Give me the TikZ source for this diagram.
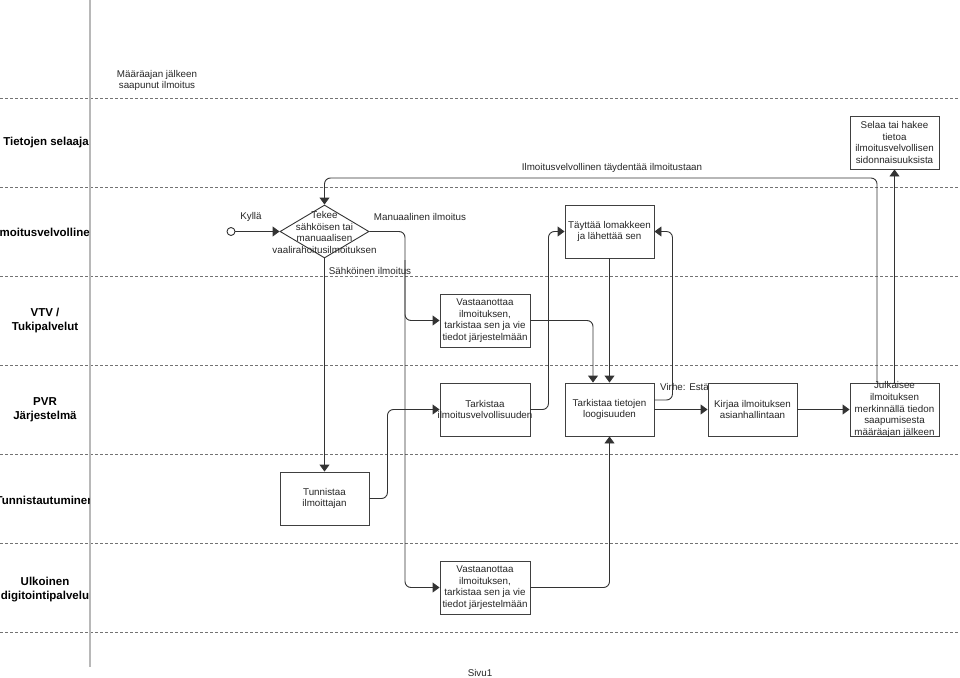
\documentclass[tikz,border=0pt]{standalone}
\usepackage{fontspec}
\setmainfont{Liberation Sans}
\usetikzlibrary{arrows.meta,shapes.geometric}
\begin{document}
\begin{tikzpicture}[x=1pt,y=-1pt]
\tikzset{
 lbl/.style={font=\fontsize{9.8}{11.67}\selectfont, inner sep=0pt, align=center, text=black!85},
 box/.style={draw=black!75, fill=white, line width=0.9pt, minimum width=89pt, minimum height=53pt, inner sep=0pt, align=center, font=\fontsize{9.8}{11.67}\selectfont, text=black!85},
 conn/.style={draw=black!80, line width=0.9pt, rounded corners=6pt},
 arr/.style={conn, -{Triangle[length=7pt,width=10pt]}},
 lane/.style={draw=black!55, dash pattern=on 3pt off 2pt, line width=0.8pt},
 lanelbl/.style={font=\bfseries\fontsize{11.5}{14}\selectfont, align=center, inner sep=0pt, text=black}
}
\useasboundingbox (0,0) rectangle (960,677);
% lanes
\foreach \yy in {98,187,276,365,454,543,632} \draw[lane] (0,\yy) -- (960,\yy);
\draw[draw=black!28, line width=1.2pt] (90,0) -- (90,667);
% lane labels
\begin{scope}
\clip (0,98) rectangle (89.4,632);
\node[lanelbl] (l1) at (46,143) {Tietojen selaaja};
\node[lanelbl] (l2) at (45,232) {Ilmoitusvelvollinen};
\node[lanelbl] (l3) at (45,320.5) {VTV /\\Tukipalvelut};
\node[lanelbl] (l4) at (45,410) {PVR\\Järjestelmä};
\node[lanelbl] (l5) at (45,500) {Tunnistautuminen};
\node[lanelbl] (l6) at (45,589.5) {Ulkoinen\\digitointipalvelu};
\end{scope}
\node[lbl] (note) at (157,80.5) {Määräajan jälkeen\\saapunut ilmoitus};
\node[lbl, anchor=west] (virhe) at (660,387) {Virhe: Estää};
% nodes
\node[draw=black!80, line width=0.9pt, fill=white, circle, minimum size=8pt, inner sep=0pt] (start) at (231,231.5) {};
\node[draw=black!80, line width=0.9pt, fill=white, diamond, minimum width=89pt, minimum height=53pt, inner sep=0pt] (dia) at (324.5,231.5) {};
\node[lbl] (diatext) at (324.5,232.5) {Tekee\\sähköisen tai\\manuaalisen\\vaalirahoitusilmoituksen};
\node[box] (selaa) at (894.5,142.5) {Selaa tai hakee\\tietoa\\ilmoitusvelvollisen\\sidonnaisuuksista};
\node[box] (tayttaa) at (609.5,231.5) {Täyttää lomakkeen\\ja lähettää sen};
\node[box, minimum width=90pt] (vtv) at (485,320.5) {Vastaanottaa\\ilmoituksen,\\tarkistaa sen ja vie\\tiedot järjestelmään};
\node[box, minimum width=90pt] (tilm) at (485,409.5) {Tarkistaa\\\makebox[0pt]{ilmoitusvelvollisuuden}};
\node[box] (ttiet) at (609.5,409.5) {Tarkistaa tietojen\\loogisuuden};
\node[box] (kirjaa) at (752.5,409.5) {Kirjaa ilmoituksen\\asianhallintaan};
\node[box, inner ysep=-3pt] (julk) at (894.5,409.5) {Julkaisee\\ilmoituksen\\merkinnällä tiedon\\saapumisesta\\määräajan jälkeen};
\node[box] (tunn) at (324.5,498.5) {Tunnistaa\\ilmoittajan};
\node[box, minimum width=90pt] (ulk) at (485,587.5) {Vastaanottaa\\ilmoituksen,\\tarkistaa sen ja vie\\tiedot järjestelmään};
% connectors
\coordinate (jm) at (405,231.5);
\coordinate (jm2) at (405,260);
\coordinate (topc) at (324.5,178);
\draw[arr] (start) -- (dia.west);
\draw[arr] (dia.south) -- (tunn.north);
\draw[arr] (dia.east) -- (jm) |- (vtv.west);
\draw[arr] (jm2) |- (ulk.west);
\draw[arr] (vtv.east) -| ([xshift=-16.5pt]ttiet.north);
\draw[arr] (tayttaa.south) -- (ttiet.north);
\draw[arr] (ulk.east) -| (ttiet.south);
\draw[arr] (tunn.east) -- ++(18,0) |- (tilm.west);
\draw[arr] (tilm.east) -- ++(18,0) |- (tayttaa.west);
\draw[arr] ([yshift=9.5pt]ttiet.east) -- ++(18,0) |- (tayttaa.east);
\draw[arr] (ttiet.east) -- (kirjaa.west);
\draw[arr] (kirjaa.east) -- (julk.west);
\draw[arr] ([xshift=-17.5pt]julk.north) |- (topc) -- (dia.north);
\draw[arr] (julk.north) -- (selaa.south);
% labels
\node[lbl] (kylla) at (251,217) {Kyllä};
\node[lbl] (manu) at (420,217) {Manuaalinen ilmoitus};
\node[lbl] (sahko) at (370,271) {Sähköinen ilmoitus};
\node[lbl] (tayd) at (612,168) {Ilmoitusvelvollinen täydentää ilmoitustaan};
\node[lbl] (sivu) at (480,673) {Sivu1};
\end{tikzpicture}
\end{document}
